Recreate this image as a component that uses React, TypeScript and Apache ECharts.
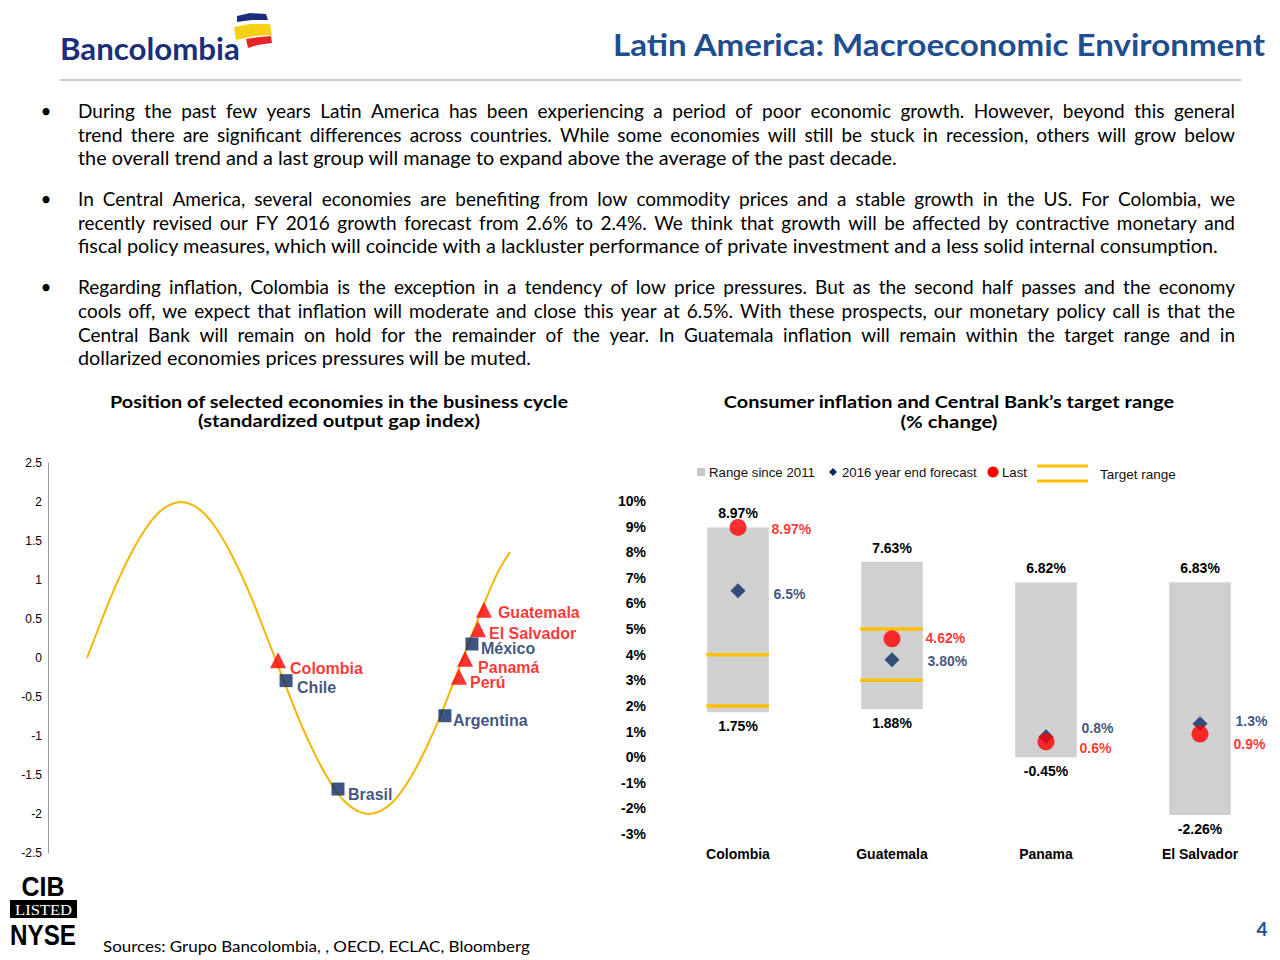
import React, { useEffect, useRef } from "react";
import * as echarts from "echarts";

// ---------- Data ----------
// Left chart: business cycle curve
const cycleX = [0, 0.5, 1, 1.5, 2, 2.5, 3, 3.5, 4, 4.5, 5, 5.5, 6, 6.5, 7, 7.5, 8, 8.5, 9, 9.5, 10, 10.5, 11, 11.5, 12, 12.5, 13, 13.5, 14, 14.5, 15, 15.5, 16, 16.5, 17, 17.5, 18];
const cycleY = [0, 0.39, 0.77, 1.11, 1.41, 1.66, 1.85, 1.96, 2, 1.96, 1.85, 1.66, 1.41, 1.11, 0.77, 0.39, 0, -0.39, -0.77, -1.11, -1.41, -1.66, -1.85, -1.96, -2, -1.96, -1.85, -1.66, -1.41, -1.11, -0.77, -0.39, 0, 0.39, 0.77, 1.11, 1.36];

const squareNames = ["Chile", "Brasil", "Argentina", "México"];
const squareX = [8.47, 10.68, 15.23, 16.38];
const squareY = [-0.29, -1.68, -0.74, 0.18];

const triangleNames = ["Colombia", "Perú", "Panamá", "El Salvador", "Guatemala"];
const triangleX = [8.13, 15.83, 16.09, 16.64, 16.89];
const triangleY = [-0.03, -0.24, -0.01, 0.37, 0.62];

const leftTicks = [-2.5, -2, -1.5, -1, -0.5, 0, 0.5, 1, 1.5, 2, 2.5];

// Right chart: inflation
const countries = ["Colombia", "Guatemala", "Panama", "El Salvador"];
const rangeHigh = [8.97, 7.63, 6.82, 6.83];
const rangeLow = [1.75, 1.88, -0.45, -2.26];
const rangeBarLow = [1.75, 1.88, 0, -2.26]; // bar bottoms as drawn in the picture
const forecast = [6.5, 3.8, 0.8, 1.3];
const forecastLabels = ["6.5%", "3.80%", "0.8%", "1.3%"];
const last = [8.97, 4.62, 0.6, 0.9];
const lastLabels = ["8.97%", "4.62%", "0.6%", "0.9%"];
const targetCountryIdx = [0, 1];
const targetLow = [2, 3];
const targetHigh = [4, 5];

// Text
const bullets = [
  [
    "During the past few years Latin America has been experiencing a period of poor economic growth. However, beyond this general",
    "trend there are significant differences across countries. While some economies will still be stuck in recession, others will grow below",
    "the overall trend and a last group will manage to expand above the average of the past decade.",
  ],
  [
    "In Central America, several economies are benefiting from low commodity prices and a stable growth in the US. For Colombia, we",
    "recently revised our FY 2016 growth forecast from 2.6% to 2.4%. We think that growth will be affected by contractive monetary and",
    "fiscal policy measures, which will coincide with a lackluster performance of private investment and a less solid internal consumption.",
  ],
  [
    "Regarding inflation, Colombia is the exception in a tendency of low price pressures. But as the second half passes and the economy",
    "cools off, we expect that inflation will moderate and close this year at 6.5%. With these prospects, our monetary policy call is that the",
    "Central Bank will remain on hold for the remainder of the year. In Guatemala inflation will remain within the target range and in",
    "dollarized economies prices pressures will be muted.",
  ],
];
const bulletTops = [110, 198, 286];

// ---------- Styles ----------
const NAVY = "#0D2A63";
const RED = "#FF0000";
const YELLOW = "#FFC000";
const TITLE_BLUE = "#1F4E8F";
const GREY = "#D0D0D0";
const BODY = "Lato, 'Open Sans', sans-serif";
const NARROW = "'Liberation Sans Narrow', 'Arial Narrow', 'Liberation Sans', sans-serif";

const squareLabelOffset = [[4.5, 7], [3.5, 5], [1.5, 5], [2.5, 5]];
const triangleLabelOffset = [[4, 8], [3, 6], [5, 9], [3, 4], [6, 3]];
const forecastLabelDy = [3, 1, -9, -3];
const lastLabelDy = [2, -1, 6, 10];

let ctx: CanvasRenderingContext2D | null = null;
function measure(text: string, font: string): number {
  if (!ctx) ctx = document.createElement("canvas").getContext("2d");
  if (!ctx) return text.length * 8;
  ctx.font = font;
  return ctx.measureText(text).width;
}

export default function App() {
  const ref = useRef<HTMLDivElement>(null);

  useEffect(() => {
    if (!ref.current) return;
    const chart = echarts.init(ref.current, undefined, { renderer: "svg" });

    const graphics: any[] = [];
    // text fitted to a target width through a horizontal scale
    const fitted = (text: string, x: number, y: number, font: string, target: number, fill: string, align: string) => {
      const w = measure(text, font);
      graphics.push({
        type: "text",
        x,
        y,
        scaleX: target / w,
        style: { text, fill, font, align, verticalAlign: "middle" },
      });
    };

    // Header
    fitted("Latin America: Macroeconomic Environment", 1265, 45, `bold 30px ${BODY}`, 653, TITLE_BLUE, "right");
    graphics.push({ type: "line", shape: { x1: 60, y1: 80, x2: 1241, y2: 80 }, style: { stroke: "#B4B8C4", lineWidth: 1.5 } });

    // Logo
    fitted("Bancolombia", 60, 48, `bold 31px ${BODY}`, 180, "#1C2E7A", "left");
    graphics.push({ type: "polygon", shape: { points: [[237, 16], [250, 13], [266, 14], [268, 20], [252, 20], [237, 22]] }, style: { fill: "#1C2E7A" } });
    graphics.push({ type: "polygon", shape: { points: [[234, 27], [250, 24], [270, 24], [272, 35], [255, 36], [236, 40]] }, style: { fill: "#F7D117" } });
    graphics.push({ type: "polygon", shape: { points: [[246, 39], [260, 37], [271, 36], [272, 43], [258, 45], [248, 48]] }, style: { fill: "#E8262A" } });

    // Bullets
    const bodySize = 19;
    const bodyFont = `${bodySize}px ${BODY}`;
    const bodyRef = "the overall trend and a last group will manage to expand above the average of the past decade.";
    const lastScale = Math.min(1.08, 820 / measure(bodyRef, bodyFont));
    const left = 78;
    const right = 1235;
    bullets.forEach((para, pi) => {
      graphics.push({
        type: "text",
        x: 46,
        y: bulletTops[pi],
        style: { text: "•", fill: "#000", font: bodyFont, align: "center", verticalAlign: "middle" },
      });
      para.forEach((line, li) => {
        const y = bulletTops[pi] + li * 24;
        const isLast = li === para.length - 1;
        if (isLast) {
          graphics.push({ type: "text", x: left, y, scaleX: lastScale, style: { text: line, fill: "#000", font: bodyFont, align: "left", verticalAlign: "middle" } });
          return;
        }
        const words = line.split(" ");
        const widths = words.map((w) => measure(w, bodyFont));
        const total = widths.reduce((a, b) => a + b, 0);
        const gap = Math.max(2, (right - left - total) / (words.length - 1));
        let x = left;
        words.forEach((w, wi) => {
          graphics.push({ type: "text", x, y, style: { text: w, fill: "#000", font: bodyFont, align: "left", verticalAlign: "middle" } });
          x += widths[wi] + gap;
        });
      });
    });

    // Chart titles
    const ctFont = `bold 17px ${BODY}`;
    fitted("Position of selected economies in the business cycle", 339, 402, ctFont, 459, "#000", "center");
    fitted("(standardized output gap index)", 339, 421, ctFont, 282, "#000", "center");
    fitted("Consumer inflation and Central Bank\u2019s target range", 949, 402, ctFont, 451, "#000", "center");
    fitted("(% change)", 949, 421, ctFont, 97, "#000", "center");

    // Right legend
    const legFont = `13px ${NARROW}`;
    graphics.push({ type: "rect", shape: { x: 697, y: 468, width: 8, height: 8 }, style: { fill: "#C8C8C8" } });
    fitted("Range since 2011", 709, 473, legFont, 106, "#111", "left");
    graphics.push({ type: "polygon", shape: { points: [[833, 468], [837, 472], [833, 476], [829, 472]] }, style: { fill: NAVY } });
    fitted("2016 year end forecast", 842, 473, legFont, 135, "#111", "left");
    graphics.push({ type: "circle", shape: { cx: 993, cy: 472, r: 5.5 }, style: { fill: RED } });
    fitted("Last", 1002, 473, legFont, 25, "#111", "left");
    graphics.push({ type: "line", shape: { x1: 1037, y1: 466, x2: 1088, y2: 466 }, style: { stroke: YELLOW, lineWidth: 3 } });
    graphics.push({ type: "line", shape: { x1: 1037, y1: 481, x2: 1088, y2: 481 }, style: { stroke: YELLOW, lineWidth: 3 } });
    fitted("Target range", 1100, 475, legFont, 76, "#111", "left");

    // CIB listed NYSE
    fitted("CIB", 43, 887, `bold 28px ${NARROW}`, 43, "#000", "center");
    graphics.push({ type: "rect", shape: { x: 10, y: 900, width: 67, height: 18 }, style: { fill: "#000" } });
    fitted("LISTED", 43.5, 909.5, `14px 'Liberation Serif', serif`, 57, "#fff", "center");
    fitted("NYSE", 10, 935, `bold 30px ${NARROW}`, 66, "#000", "left");

    // Sources and page number
    fitted("Sources: Grupo Bancolombia, , OECD, ECLAC, Bloomberg", 103, 946, `15px ${BODY}`, 427, "#000", "left");
    graphics.push({ type: "text", x: 1262, y: 928, style: { text: "4", fill: TITLE_BLUE, font: `bold 19px ${BODY}`, align: "center", verticalAlign: "middle" } });

    const pointLabel = (color: string, off: number[]) => ({
      show: true,
      position: "right",
      distance: 0,
      offset: off,
      color,
      fontFamily: NARROW,
      fontWeight: "bold",
      fontSize: 16,
      lineHeight: 14,
    });

    const barW = (api: any) => api.size([1, 0])[0] * 0.4;

    const option: any = {
      animation: false,
      backgroundColor: "#fff",
      graphic: { elements: graphics },
      grid: [
        { left: 48, top: 463, width: 556, height: 390 },
        { left: 661, top: 501, width: 616, height: 333 },
      ],
      xAxis: [
        {
          gridIndex: 0,
          type: "value",
          min: -1.66,
          max: 22,
          show: false,
        },
        {
          gridIndex: 1,
          type: "category",
          data: countries,
          axisLine: { show: false },
          axisTick: { show: false },
          axisLabel: { color: "#000", fontFamily: NARROW, fontWeight: "bold", fontSize: 14, margin: 13 },
        },
      ],
      yAxis: [
        {
          gridIndex: 0,
          type: "value",
          min: -2.5,
          max: 2.5,
          interval: 0.5,
          axisLine: { show: true, onZero: false, lineStyle: { color: "#9A9A9A", width: 1 } },
          axisTick: { show: false },
          splitLine: { show: false },
          axisLabel: { color: "#000", fontFamily: NARROW, fontSize: 12, margin: 6, formatter: (v: number) => (leftTicks.includes(v) ? String(v) : "") },
        },
        {
          gridIndex: 1,
          type: "value",
          min: -3,
          max: 10,
          interval: 1,
          axisLine: { show: false },
          axisTick: { show: false },
          splitLine: { show: false },
          axisLabel: { color: "#000", fontFamily: NARROW, fontWeight: "bold", fontSize: 14, margin: 15, formatter: (v: number) => `${v}%` },
        },
      ],
      series: [
        {
          type: "line",
          xAxisIndex: 0,
          yAxisIndex: 0,
          data: cycleX.map((x, i) => [x, cycleY[i]]),
          smooth: 0.3,
          symbol: "none",
          lineStyle: { color: "#F5B500", width: 2 },
          z: 2,
        },
        {
          type: "scatter",
          xAxisIndex: 0,
          yAxisIndex: 0,
          symbol: "triangle",
          symbolSize: 16,
          itemStyle: { color: RED },
          data: triangleNames.map((n, i) => ({
            name: n,
            value: [triangleX[i], triangleY[i]],
            label: { ...pointLabel(RED, triangleLabelOffset[i]), formatter: n },
          })),
          z: 3,
        },
        {
          type: "scatter",
          xAxisIndex: 0,
          yAxisIndex: 0,
          symbol: "rect",
          symbolSize: 13,
          itemStyle: { color: NAVY },
          data: squareNames.map((n, i) => ({
            name: n,
            value: [squareX[i], squareY[i]],
            label: { ...pointLabel(NAVY, squareLabelOffset[i]), formatter: n },
          })),
          z: 3,
        },
        // Range bars
        {
          type: "custom",
          xAxisIndex: 1,
          yAxisIndex: 1,
          data: countries.map((_, i) => [i, rangeBarLow[i], rangeHigh[i]]),
          renderItem: (params: any, api: any) => {
            const i = params.dataIndex;
            const top = api.coord([api.value(0), api.value(2)]);
            const bot = api.coord([api.value(0), api.value(1)]);
            const w = barW(api);
            const lf = `bold 14px ${NARROW}`;
            return {
              type: "group",
              children: [
                { type: "rect", shape: { x: top[0] - w / 2, y: top[1], width: w, height: bot[1] - top[1] }, style: { fill: GREY } },
                { type: "text", x: top[0], y: top[1] - 14, style: { text: `${rangeHigh[i].toFixed(2)}%`, fill: "#000", font: lf, align: "center", verticalAlign: "middle" } },
                { type: "text", x: bot[0], y: bot[1] + 14, style: { text: `${rangeLow[i].toFixed(2)}%`, fill: "#000", font: lf, align: "center", verticalAlign: "middle" } },
              ],
            };
          },
          z: 1,
        },
        // Target range lines
        {
          type: "custom",
          xAxisIndex: 1,
          yAxisIndex: 1,
          data: targetCountryIdx.map((c, i) => [c, targetLow[i], targetHigh[i]]),
          renderItem: (params: any, api: any) => {
            const lo = api.coord([api.value(0), api.value(1)]);
            const hi = api.coord([api.value(0), api.value(2)]);
            const w = barW(api);
            return {
              type: "group",
              children: [
                { type: "line", shape: { x1: lo[0] - w / 2 - 1, y1: lo[1], x2: lo[0] + w / 2, y2: lo[1] }, style: { stroke: YELLOW, lineWidth: 3.5 } },
                { type: "line", shape: { x1: hi[0] - w / 2 - 1, y1: hi[1], x2: hi[0] + w / 2, y2: hi[1] }, style: { stroke: YELLOW, lineWidth: 3.5 } },
              ],
            };
          },
          z: 2,
        },
        {
          type: "scatter",
          xAxisIndex: 1,
          yAxisIndex: 1,
          symbol: "diamond",
          symbolSize: 15,
          itemStyle: { color: NAVY },
          data: forecast.map((v, i) => ({
            value: [i, v],
            label: {
              show: true,
              position: "right",
              distance: 28,
              offset: [0, forecastLabelDy[i]],
              formatter: forecastLabels[i],
              color: NAVY,
              fontFamily: NARROW,
              fontWeight: "bold",
              fontSize: 14,
            },
          })),
          z: 3,
        },
        {
          type: "scatter",
          xAxisIndex: 1,
          yAxisIndex: 1,
          symbol: "circle",
          symbolSize: 17,
          itemStyle: { color: RED },
          data: last.map((v, i) => ({
            value: [i, v],
            label: {
              show: true,
              position: "right",
              distance: 25,
              offset: [0, lastLabelDy[i]],
              formatter: lastLabels[i],
              color: RED,
              fontFamily: NARROW,
              fontWeight: "bold",
              fontSize: 14,
            },
          })),
          z: 4,
        },
      ],
    };

    chart.setOption(option);
    return () => chart.dispose();
  }, []);

  return <div ref={ref} style={{ position: "absolute", left: 0, top: 0, width: 1280, height: 960, background: "#fff" }} />;
}
